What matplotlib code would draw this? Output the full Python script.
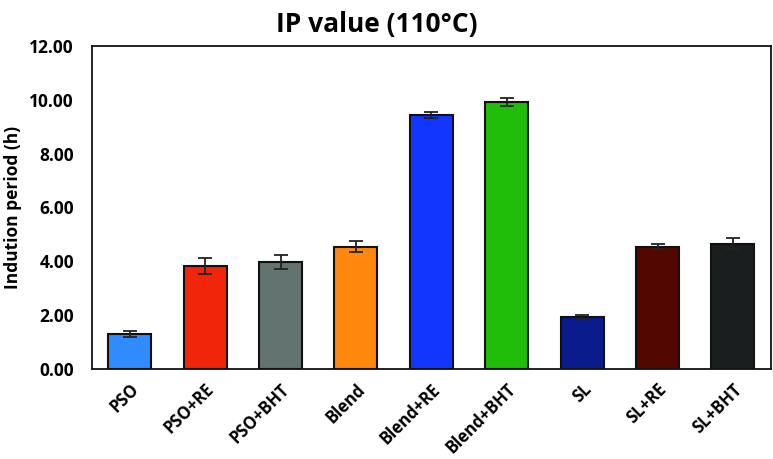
import matplotlib
matplotlib.use('Agg')
import matplotlib.pyplot as plt

categories = ['PSO', 'PSO+RE', 'PSO+BHT', 'Blend', 'Blend+RE', 'Blend+BHT', 'SL', 'SL+RE', 'SL+BHT']
ip_values = [1.30, 3.83, 3.98, 4.54, 9.44, 9.93, 1.93, 4.54, 4.65]
ip_errors = [0.10, 0.30, 0.26, 0.20, 0.12, 0.15, 0.07, 0.10, 0.20]
bar_colors = ['#2F8BFF', '#F0250A', '#637370', '#FF870D', '#1336FF', '#20BE08', '#0A1C8C', '#520800', '#1A1E1F']
y_ticks = [0, 2, 4, 6, 8, 10, 12]

plt.rcParams['font.family'] = ['Open Sans', 'DejaVu Sans']
plt.rcParams['font.weight'] = 'bold'

fig = plt.figure(figsize=(7.73, 4.59), dpi=100)
ax = fig.add_axes([0.119, 0.196, 0.878, 0.704])

x = range(len(categories))
ax.bar(x, ip_values, width=0.57, color=bar_colors, edgecolor='#111111', linewidth=1.5,
       yerr=ip_errors, error_kw=dict(ecolor='#222222', elinewidth=1.3, capsize=5, capthick=1.3))

ax.set_xlim(-0.5, len(categories) - 0.5)
ax.set_ylim(0, 12)
ax.set_yticks(y_ticks)
ax.set_yticklabels(['%.2f' % t for t in y_ticks], fontsize=12.5, fontweight='bold')
ax.set_xticks(list(x))
ax.set_xticklabels(categories, rotation=45, ha='right', rotation_mode='anchor',
                   fontsize=12, fontweight='bold')
ax.tick_params(axis='x', length=0, pad=8)
ax.tick_params(axis='y', length=0, pad=13)

for s in ax.spines.values():
    s.set_linewidth(1.3)
    s.set_color('#111111')

ax.set_ylabel('Indution period (h)', fontsize=12.5, fontweight='bold', labelpad=5)
ax.set_title('IP value (110°C)', fontsize=19, fontweight='bold', pad=10, x=0.42)

fig.savefig('out.png', dpi=100)
